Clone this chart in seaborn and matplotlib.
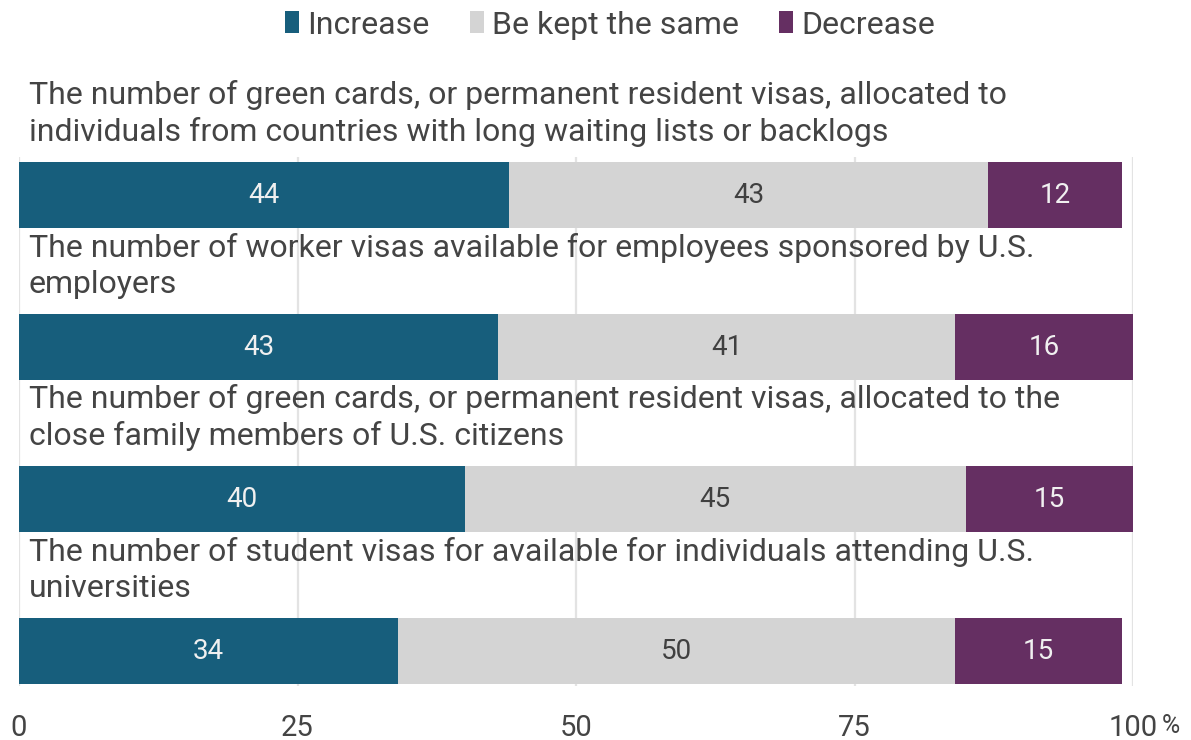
import matplotlib
matplotlib.use("Agg")
import matplotlib.pyplot as plt
from matplotlib.patches import Patch
import numpy as np
import pandas as pd
import seaborn as sns

# Survey items (wrapped as they are printed above each bar)
categories = [
    "The number of green cards, or permanent resident visas, allocated to\nindividuals from countries with long waiting lists or backlogs",
    "The number of worker visas available for employees sponsored by U.S.\nemployers",
    "The number of green cards, or permanent resident visas, allocated to the\nclose family members of U.S. citizens",
    "The number of student visas for available for individuals attending U.S.\nuniversities",
]
increase = [44, 43, 40, 34]
same = [43, 41, 45, 50]
decrease = [12, 16, 15, 15]

series_names = ["Increase", "Be kept the same", "Decrease"]
colors = ["#175E7C", "#D4D4D4", "#652F62"]
label_colors = ["#F0F0F0", "#404040", "#F0F0F0"]
tick_values = [0, 25, 50, 75, 100]
tick_labels = ["0", "25", "50", "75", "100"]

sns.set_style("white")
plt.rcParams["font.family"] = ["Roboto", "DejaVu Sans"]
TEXT = "#444444"

df = pd.DataFrame({
    "item": categories,
    "Increase": increase,
    "Be kept the same": same,
    "Decrease": decrease,
})
df["cum_inc"] = df["Increase"]
df["cum_same"] = df["Increase"] + df["Be kept the same"]
df["cum_all"] = df["cum_same"] + df["Decrease"]

fig = plt.figure(figsize=(11.91, 7.40), dpi=100)
ax = fig.add_axes([19 / 1191, 1 - 686 / 740, (1133 - 19) / 1191, (686 - 157) / 740])

BAR_H = 0.434
# stacked bars drawn as overlapping cumulative totals
for col, color in [("cum_all", colors[2]), ("cum_same", colors[1]), ("cum_inc", colors[0])]:
    sns.barplot(data=df, x=col, y="item", order=categories, orient="h",
                color=color, width=BAR_H, errorbar=None, linewidth=0,
                saturation=1, ax=ax, zorder=3)

# value labels centered in each segment
for i, row in df.iterrows():
    starts = [0, row["cum_inc"], row["cum_same"]]
    vals = [row["Increase"], row["Be kept the same"], row["Decrease"]]
    for s, v, tc in zip(starts, vals, label_colors):
        ax.text(s + v / 2, i, f"{v}", ha="center", va="center",
                fontsize=20, color=tc, zorder=5)

# item labels sit above their bars
trans = matplotlib.transforms.blended_transform_factory(ax.transAxes, ax.transData)
for i, cat in enumerate(categories):
    ax.text(10 / 1114, i - BAR_H / 2 - 0.1, cat, transform=trans,
            ha="left", va="bottom", fontsize=23, color=TEXT,
            linespacing=1.3, zorder=4)

ax.set_xlim(0, 100)
ax.set_ylim(3.23, -0.25)
ax.set_xticks(tick_values)
ax.set_xticklabels(tick_labels)
ax.set_yticks([])
ax.set_xlabel("")
ax.set_ylabel("")
ax.tick_params(axis="x", length=0, pad=20, labelsize=21, labelcolor=TEXT)
ax.grid(axis="x", color="#E3E3E3", linewidth=1.6, zorder=0)
ax.grid(axis="y", visible=False)
ax.set_axisbelow(True)
for sp in ax.spines.values():
    sp.set_visible(False)

# percent sign after the last tick label
ax.annotate("%", xy=(100, 0), xycoords=("data", "axes fraction"),
            xytext=(21, -20), textcoords="offset points",
            ha="left", va="top", fontsize=18, color=TEXT)

handles = [Patch(facecolor=c, edgecolor="none") for c in colors]
fig.legend(handles, series_names, loc="center", bbox_to_anchor=(610 / 1191, 1 - 25 / 740),
           ncol=3, frameon=False, fontsize=23, handlelength=0.45, handleheight=0.68,
           handletextpad=0.25, columnspacing=1.25, labelcolor=TEXT)

fig.savefig("out.png", dpi=100)
